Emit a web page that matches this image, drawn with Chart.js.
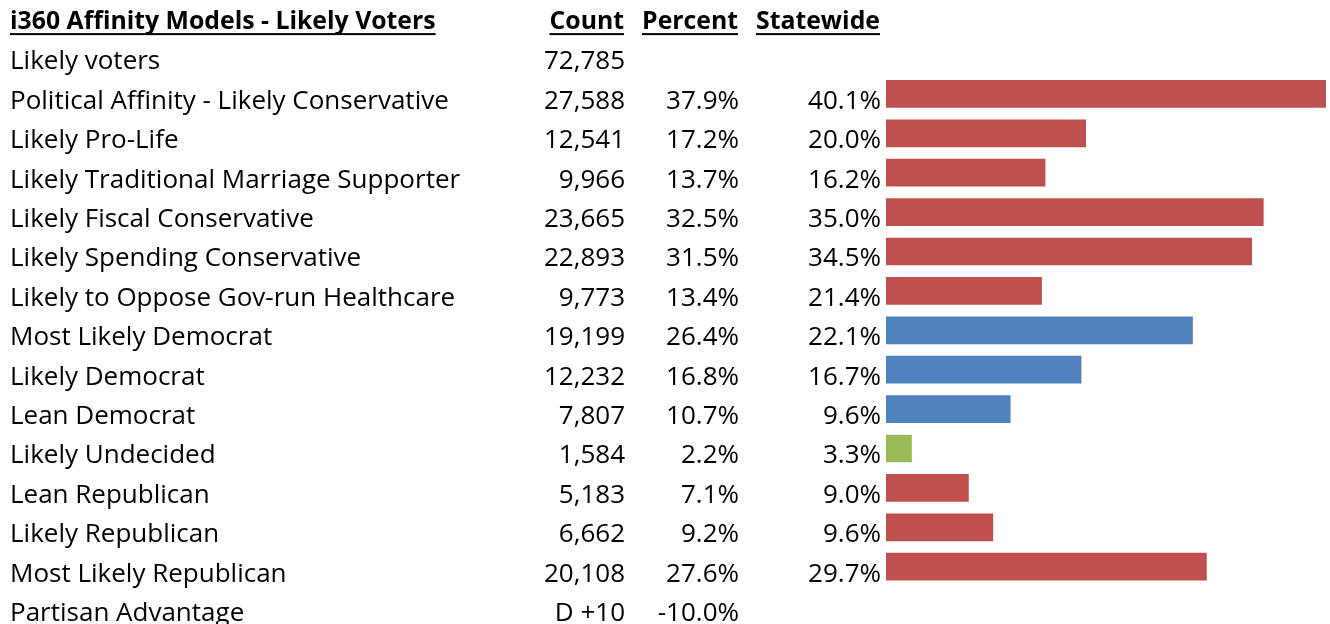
<!DOCTYPE html>
<html>
<head>
<meta charset="utf-8">
<script src="https://cdn.jsdelivr.net/npm/chart.js@4.4.1/dist/chart.umd.min.js"></script>
<style>
  html, body { margin:0; padding:0; background:#fff; overflow:hidden; }
  #wrap { width:1330px; height:624px; position:relative; }
</style>
</head>
<body>
<div id="wrap"><canvas id="c"></canvas></div>
<script>
// ---- data ----
const title    = 'i360 Affinity Models - Likely Voters';
const colHeads = ['Count', 'Percent', 'Statewide'];

const labels = [
  'Likely voters',
  'Political Affinity - Likely Conservative',
  'Likely Pro-Life',
  'Likely Traditional Marriage Supporter',
  'Likely Fiscal Conservative',
  'Likely Spending Conservative',
  'Likely to Oppose Gov-run Healthcare',
  'Most Likely Democrat',
  'Likely Democrat',
  'Lean Democrat',
  'Likely Undecided',
  'Lean Republican',
  'Likely Republican',
  'Most Likely Republican',
  'Partisan Advantage'
];
const counts    = ['72,785','27,588','12,541','9,966','23,665','22,893','9,773','19,199','12,232','7,807','1,584','5,183','6,662','20,108','D +10'];
const percent   = [null, 37.9, 17.2, 13.7, 32.5, 31.5, 13.4, 26.4, 16.8, 10.7, 2.2, 7.1, 9.2, 27.6, -10.0];
const statewide = [null, 40.1, 20.0, 16.2, 35.0, 34.5, 21.4, 22.1, 16.7, 9.6, 3.3, 9.0, 9.6, 29.7, null];
// which rows get a bar, and its party colour
const groups    = [null,'R','R','R','R','R','R','D','D','D','U','R','R','R',null];

const COLORS = { R:'#C0504D', D:'#4F81BD', U:'#9BBB59' };
const FONT = '"Open Sans", sans-serif';
const FS = 26, FS_HEAD = 24.8;

const barData = percent.map((v, i) => groups[i] ? v : null);
const barMax  = Math.max(...barData.filter(v => v !== null));

const tablePlugin = {
  id: 'table',
  afterDraw(chart) {
    const { ctx } = chart;
    const y = chart.scales.y;
    const step = y.getPixelForValue(1) - y.getPixelForValue(0);
    const dy = 7.5;
    const colX = [625, 739, 881];
    const fmt = v => v === null ? '' : v.toFixed(1) + '%';

    ctx.save();
    ctx.fillStyle = '#000';
    ctx.textBaseline = 'middle';

    // header row
    const hy = y.getPixelForValue(0) - step + dy - 1;
    ctx.font = `bold ${FS_HEAD}px ${FONT}`;
    const head = [[title, 10, 'left'], [colHeads[0], colX[0] - 1, 'right'],
                  [colHeads[1], colX[1] - 1, 'right'], [colHeads[2], colX[2] - 1, 'right']];
    head.forEach(([t, x, al]) => {
      ctx.textAlign = al;
      ctx.fillText(t, x, hy);
      const w = ctx.measureText(t).width;
      const x0 = al === 'left' ? x : x - w;
      ctx.fillRect(x0, hy + 11.5, w, 2);
    });

    // body rows
    ctx.font = `${FS}px ${FONT}`;
    labels.forEach((lab, i) => {
      const ty = y.getPixelForValue(i) + dy;
      ctx.textAlign = 'left';
      ctx.fillText(lab, 10, ty);
      ctx.textAlign = 'right';
      ctx.fillText(counts[i], colX[0], ty);
      ctx.fillText(fmt(percent[i]), colX[1], ty);
      ctx.fillText(fmt(statewide[i]), colX[2], ty);
    });
    ctx.restore();
  }
};

new Chart(document.getElementById('c'), {
  type: 'bar',
  data: {
    labels,
    datasets: [{
      data: barData,
      backgroundColor: groups.map(g => g ? COLORS[g] : 'transparent'),
      barThickness: 27,
      borderWidth: 0
    }]
  },
  options: {
    indexAxis: 'y',
    responsive: true,
    maintainAspectRatio: false,
    animation: false,
    layout: { padding: { left: 886, right: 4, top: 54.5, bottom: 17.9 } },
    scales: {
      x: { display: false, min: 0, max: barMax },
      y: { display: false, offset: false }
    },
    plugins: { legend: { display: false }, tooltip: { enabled: false } }
  },
  plugins: [tablePlugin]
});
</script>
</body>
</html>
